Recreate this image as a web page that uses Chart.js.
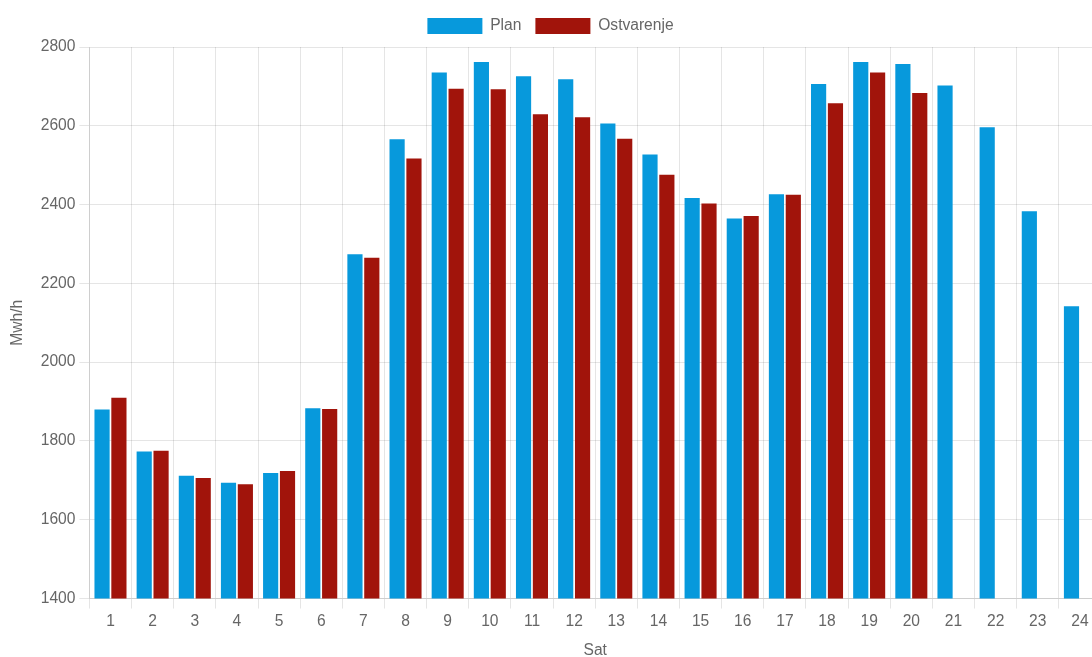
<!DOCTYPE html>
<html>
<head>
<meta charset="utf-8">
<script src="https://cdn.jsdelivr.net/npm/chart.js@4"></script>
<style>
  html, body { margin: 0; padding: 0; background: #fff; overflow: hidden; }
  #wrap { position: absolute; left: 0; top: 0; width: 1101px; height: 664px; }
</style>
</head>
<body>
<div id="wrap"><canvas id="c"></canvas></div>
<script>
// sati u danu i vrijednosti (Mwh/h) očitane sa slike
const sati = ['1','2','3','4','5','6','7','8','9','10','11','12','13','14','15','16','17','18','19','20','21','22','23','24'];
const plan = [1880, 1773, 1712, 1694, 1719, 1883, 2274, 2566, 2735, 2762, 2726, 2718, 2606, 2527, 2417, 2365, 2426, 2706, 2762, 2757, 2702, 2596, 2383, 2142];
const ostvarenje = [1910, 1775, 1706, 1690, 1724, 1881, 2265, 2517, 2694, 2693, 2629, 2622, 2567, 2476, 2403, 2371, 2425, 2657, 2735, 2683, null, null, null, null];
const yMin = 1400, yMax = 2800, yKorak = 200;

Chart.defaults.font.family = "'Liberation Sans', Arial, sans-serif";
Chart.defaults.font.size = 15.6;
Chart.defaults.color = '#666';

// malo više razmaka ispod legende
const razmakLegende = {
  id: 'razmakLegende',
  beforeInit(chart) {
    const fit = chart.legend.fit;
    chart.legend.fit = function () { fit.call(this); this.height += 3; };
  },
};

new Chart(document.getElementById('c').getContext('2d'), {
  type: 'bar',
  data: {
    labels: sati,
    datasets: [
      { label: 'Plan', data: plan, backgroundColor: '#0799dc', borderColor: '#0799dc', borderWidth: 0 },
      { label: 'Ostvarenje', data: ostvarenje, backgroundColor: '#a1140b', borderColor: '#a1140b', borderWidth: 0 },
    ],
  },
  options: {
    responsive: true, maintainAspectRatio: false, animation: false, devicePixelRatio: 1,
    layout: { padding: { top: 4, right: 0, bottom: 0, left: 0 } },
    plugins: {
      legend: { labels: { boxWidth: 55, boxHeight: 16, padding: 14 } },
      tooltip: { enabled: false },
    },
    scales: {
      x: {
        title: { display: true, text: 'Sat', padding: { top: 6, bottom: 4 } },
        grid: { color: 'rgba(0,0,0,0.1)', tickLength: 10, offset: true },
        ticks: { padding: 4 },
      },
      y: {
        min: yMin, max: yMax,
        title: { display: true, text: 'Mwh/h', padding: { top: 8, bottom: 10 } },
        grid: { color: 'rgba(0,0,0,0.1)', tickLength: 10 },
        ticks: { stepSize: yKorak, padding: 4, callback: v => String(v) },
      },
    },
  },
  plugins: [razmakLegende],
});
</script>
</body>
</html>
